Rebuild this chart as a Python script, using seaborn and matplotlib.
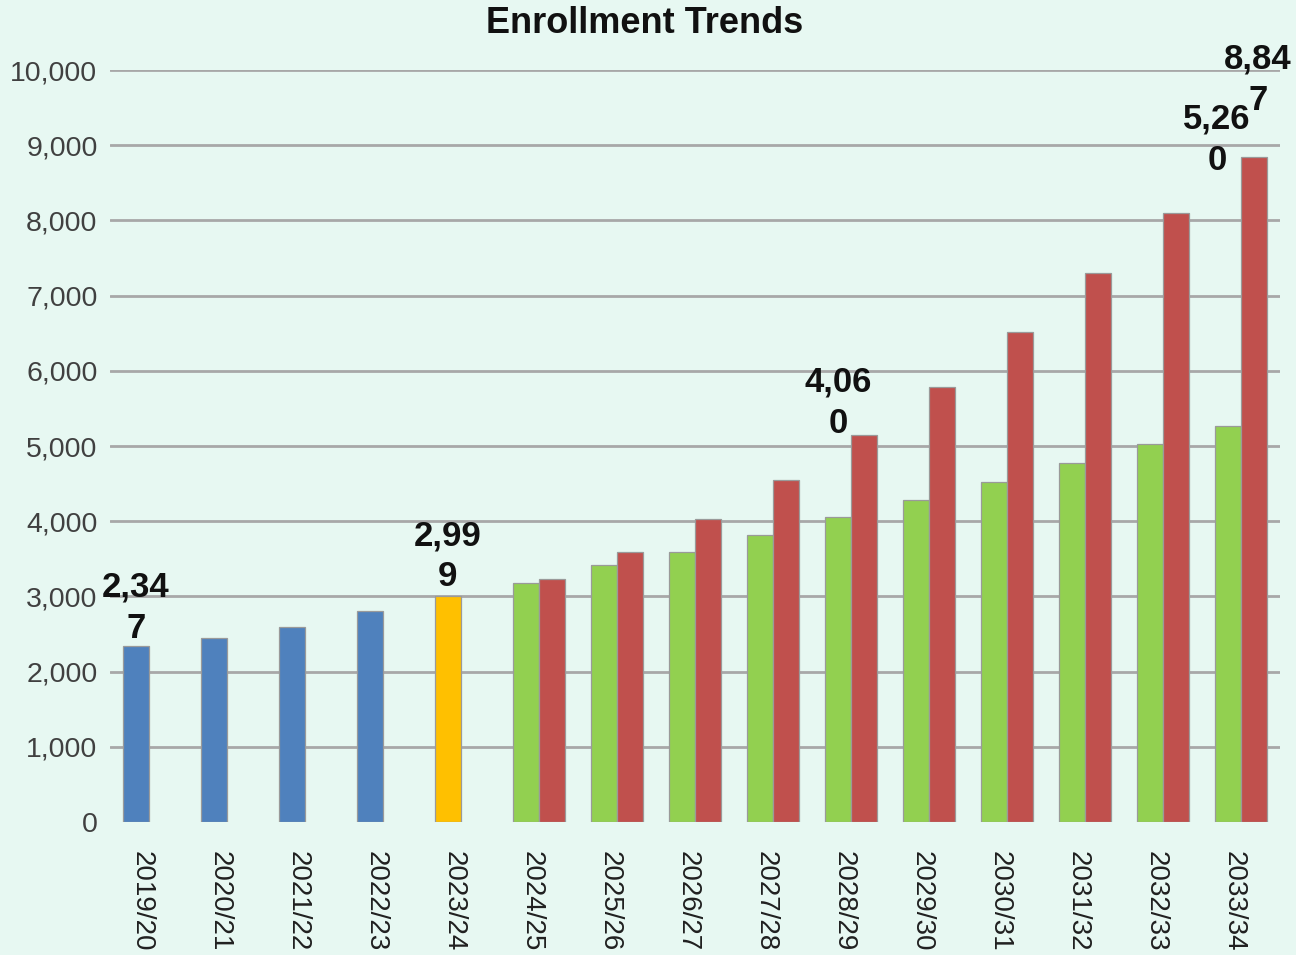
import matplotlib
matplotlib.use("Agg")
import matplotlib.pyplot as plt
import matplotlib.transforms as mtransforms
import numpy as np
import pandas as pd
import seaborn as sns

# ---- data -------------------------------------------------------------
years = ["2019/20", "2020/21", "2021/22", "2022/23", "2023/24",
         "2024/25", "2025/26", "2026/27", "2027/28", "2028/29",
         "2029/30", "2030/31", "2031/32", "2032/33", "2033/34"]
enrollment_low = [2347, 2447, 2593, 2806, 2999,
                  3178, 3418, 3590, 3816, 4060,
                  4282, 4521, 4774, 5027, 5260]
enrollment_high = [np.nan, np.nan, np.nan, np.nan, np.nan,
                   3231, 3590, 4029, 4548, 5146,
                   5785, 6516, 7301, 8098, 8847]
period = ["actual"] * 4 + ["current"] + ["projected"] * 10
series_names = ["Low", "High"]
y_ticks = [0, 1000, 2000, 3000, 4000, 5000, 6000, 7000, 8000, 9000, 10000]

# ---- styling ----------------------------------------------------------
BG = "#E7F8F2"
period_colors = {"actual": "#4F81BD", "current": "#FFC000", "projected": "#92D050"}
high_color = "#C0504D"

sns.set_theme(style="white")
plt.rcParams["font.family"] = ["Liberation Sans", "DejaVu Sans"]

df = pd.DataFrame({
    "year": years * 2,
    "series": [series_names[0]] * len(years) + [series_names[1]] * len(years),
    "value": enrollment_low + enrollment_high,
})

fig = plt.figure(figsize=(12.96, 9.55), dpi=100, facecolor=BG)
ax = fig.add_axes([110 / 1296, 1 - 822 / 955, 1170 / 1296, 752 / 955])
ax.set_facecolor(BG)

sns.barplot(data=df, x="year", y="value", hue="series", hue_order=series_names,
            order=years, palette=[period_colors["projected"], high_color],
            width=0.67, dodge=True, legend=False, errorbar=None,
            edgecolor="#9A9A9A", linewidth=0.9, saturation=1, ax=ax)

# colour the first series bar by bar: actuals, current year, projections
for patch, p in zip(ax.containers[0].patches, period):
    patch.set_facecolor(period_colors[p])

ax.set_xlim(-0.5, len(years) - 0.5)
ax.set_ylim(0, 10000)
ax.set_yticks(y_ticks)
ax.set_yticklabels([f"{v:,}" for v in y_ticks])
ax.set_xlabel("")
ax.set_ylabel("")
for s in ax.spines.values():
    s.set_visible(False)

ax.yaxis.grid(True, color="#A8A8A8", linewidth=2)
ax.set_axisbelow(True)
ax.get_ygridlines()[0].set_visible(False)

ax.tick_params(axis="y", length=0, pad=9, labelsize=20.5, labelcolor="#404040")
ax.tick_params(axis="x", length=0, pad=21, labelsize=20, labelcolor="#202020")
shift = mtransforms.ScaledTranslation(-7 / 100, 0, fig.dpi_scale_trans)
for lbl in ax.get_xticklabels():
    lbl.set_rotation(-90)
    lbl.set_ha("center")
    lbl.set_va("top")
    lbl.set_transform(lbl.get_transform() + shift)

# ---- data labels (wrapped after four characters) ------------------------
# (series index, year index, x shift px, y shift px)
label_specs = [(0, 0, 0, 1), (0, 4, 0, 3), (0, 9, 0, -5), (0, 14, -11, -20), (1, 14, 4, 40)]
values = [enrollment_low, enrollment_high]
first_high = 5
for s_idx, i, dx, dy in label_specs:
    v = values[s_idx][i]
    patch = ax.containers[0].patches[i] if s_idx == 0 else \
        ax.containers[1].patches[i - first_high]
    xc = patch.get_x() + patch.get_width() / 2
    group_top = np.nanmax([enrollment_low[i], enrollment_high[i]])
    txt = f"{v:,}"
    txt = txt[:4] + "\n" + txt[4:]
    ax.annotate(txt, xy=(xc, group_top), xytext=(dx, dy), textcoords="offset pixels",
                ha="center", va="bottom", multialignment="center",
                fontsize=25, fontweight="bold", color="#111111",
                linespacing=1.32, annotation_clip=False)

fig.text(645 / 1296, 1 - 33 / 955, "Enrollment Trends", ha="center", va="baseline",
         fontsize=26, fontweight="bold", color="#111111")

fig.savefig("out.png", dpi=100, facecolor=BG)
